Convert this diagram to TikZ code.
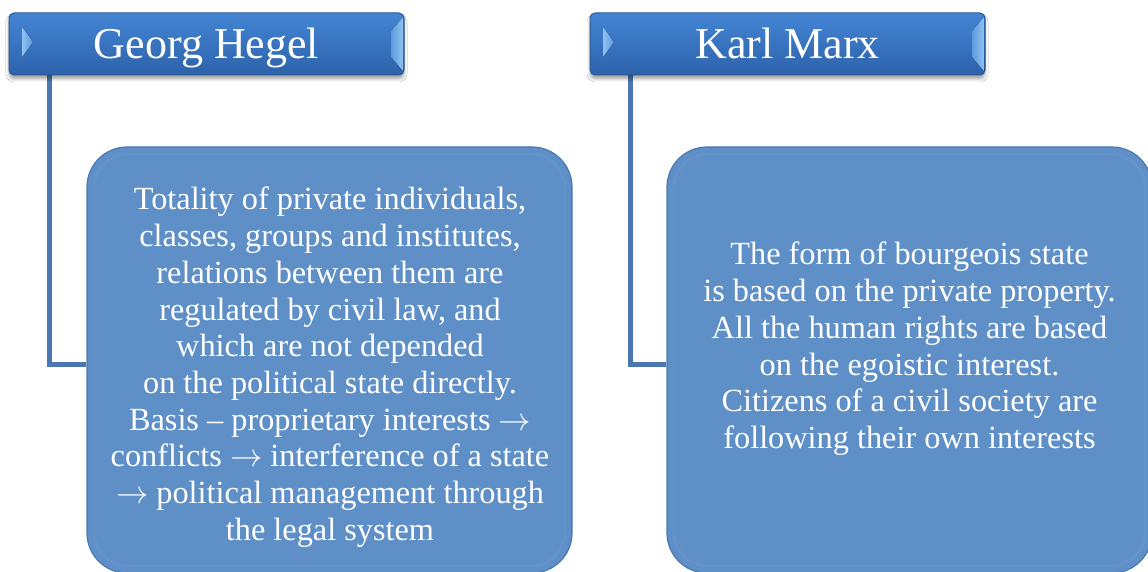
\RequirePackage{fix-cm}
\documentclass[tikz,border=0pt]{standalone}
\usepackage{fontspec}
\setmainfont{Liberation Serif}
\usetikzlibrary{shadows.blur,backgrounds}
\definecolor{hdtop}{HTML}{4485D4}
\definecolor{hdbot}{HTML}{2D62AA}
\definecolor{hdline}{HTML}{2A5A98}
\definecolor{hdlight}{HTML}{8FC2F2}
\definecolor{hdlightb}{HTML}{5C9BDA}
\definecolor{bodyfill}{HTML}{5F8FC7}
\definecolor{bodyline}{HTML}{4B79B2}
\definecolor{bodyinner}{HTML}{6A99CF}
\definecolor{connc}{HTML}{4A76B2}
\newcommand{\myarr}{\ensuremath{\rightarrow}}
\begin{document}
\begin{tikzpicture}[x=1pt,y=-1pt,
  header/.style={rectangle, rounded corners=5pt, top color=hdtop, bottom color=hdbot,
    draw=hdline, line width=1pt, minimum width=395pt, minimum height=62pt,
    inner sep=0pt, text=white, text height=30pt, text depth=0pt,
    font=\fontsize{44}{50}\selectfont,
    blur shadow={shadow xshift=0pt, shadow yshift=-4pt, shadow blur radius=3pt, shadow opacity=35}},
  bodybox/.style={rectangle, rounded corners=40pt, fill=bodyfill, draw=bodyline,
    line width=1.2pt, minimum width=485pt, minimum height=426pt, inner sep=0pt},
  bodytext/.style={text=white, align=center, inner sep=0pt,
    font=\fontsize{32.3}{36.7}\selectfont},
  conn/.style={draw=connc, line width=5pt},
  bevel/.style={left color=hdlight, right color=hdlightb}
]
\useasboundingbox (0,0) rectangle (1148,572);
% header boxes
\node[header] (hegel) at (206.5,44) {Georg Hegel};
\node[header] (marx) at (787.5,44) {Karl Marx};
% bevel highlights
\fill[left color=hdlight, right color=hdlightb] (22,27) -- (33,42) -- (22,57) -- cycle;
\fill[left color=hdlightb, right color=hdlight] (403,17) -- (391,31) -- (391,57) -- (403,71) -- cycle;
\fill[left color=hdlight, right color=hdlightb] (603,27) -- (614,42) -- (603,57) -- cycle;
\fill[left color=hdlightb, right color=hdlight] (984,17) -- (972,31) -- (972,57) -- (984,71) -- cycle;
% body boxes
\node[bodybox] (hegelbox) at (329.5,360) {};
\node[bodybox] (marxbox) at (909.5,360) {};
\draw[bodyinner, line width=3pt, opacity=0.45, rounded corners=34pt] (94,154) rectangle (565,566);
\draw[bodyinner, line width=3pt, opacity=0.45, rounded corners=34pt] (674,154) rectangle (1145,566);
% texts
\node[bodytext, anchor=north] (hegeltext) at (330,187) {Totality of private individuals,\\
classes, groups and institutes,\\
relations between them are\\
regulated by civil law, and\\
which are not depended\\
on the political state directly.\\
Basis -- proprietary interests \myarr\\
conflicts \myarr{} interference of a state\\
\myarr{} political management through\\
the legal system};
\node[bodytext, anchor=north] (marxtext) at (909.5,242) {The form of bourgeois state\\
is based on the private property.\\
All the human rights are based\\
on the egoistic interest.\\
Citizens of a civil society are\\
following their own interests};
% connectors
\begin{scope}[on background layer]
\fill[white] (0,0) rectangle (1148,572);
\draw[conn] ([xshift=40.5pt]hegel.south west) |- ([yshift=-4pt]hegelbox.west);
\draw[conn] ([xshift=40.5pt]marx.south west) |- ([yshift=-4pt]marxbox.west);
\end{scope}
\end{tikzpicture}
\end{document}
